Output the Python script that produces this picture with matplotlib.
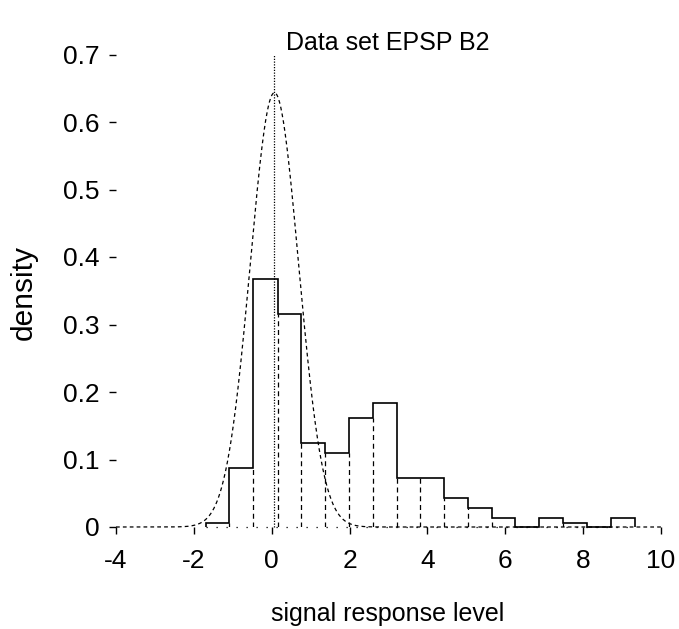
import numpy as np
import matplotlib.pyplot as plt

plt.rcParams['font.family'] = ['Liberation Sans', 'DejaVu Sans']

# histogram (density scale)
bin_edges = [-1.70, -1.09, -0.47, 0.15, 0.76, 1.37, 1.98, 2.59, 3.21, 3.82,
             4.43, 5.04, 5.65, 6.26, 6.87, 7.48, 8.10, 8.71, 9.32]
bin_heights = [0.006, 0.087, 0.367, 0.316, 0.124, 0.109, 0.161, 0.183, 0.073,
               0.073, 0.043, 0.028, 0.013, 0.0, 0.013, 0.006, 0.0, 0.013]

# noise component (normal density) and its marker line
noise_mean = 0.07
noise_sd = 0.62
marker_x = 0.05
marker_top = 0.7

x_ticks = [-4, -2, 0, 2, 4, 6, 8, 10]
y_ticks = [0, 0.1, 0.2, 0.3, 0.4, 0.5, 0.6, 0.7]
y_ticklabels = ['0', '0.1', '0.2', '0.3', '0.4', '0.5', '0.6', '0.7']

fig = plt.figure(figsize=(6.79, 6.29), dpi=100)
ax = fig.add_axes([116 / 679, 102 / 629, 545 / 679, 472.5 / 629])

edges = np.array(bin_edges)
h = np.array(bin_heights)

# outline of the histogram (solid)
ax.stairs(h, edges, baseline=0, fill=False, color='black', lw=1.2, clip_on=False)
# inner bin borders (dashed)
ax.vlines(edges[1:-1], 0, np.minimum(h[:-1], h[1:]), colors='black',
          linestyles=(0, (4, 3)), lw=0.9)
# sparse dotted baseline under the bars
ax.plot([edges[0], edges[-1]], [0, 0], color='black', lw=0.9,
        linestyle=(0, (1, 7)), clip_on=False)

# fitted normal curve
xs = np.linspace(-4, 10, 1400)
pdf = np.exp(-0.5 * ((xs - noise_mean) / noise_sd) ** 2) / (noise_sd * np.sqrt(2 * np.pi))
ax.plot(xs, pdf, color='black', lw=0.9, linestyle=(0, (3, 2.5)), clip_on=False)

# vertical dotted line at the noise mean
ax.plot([marker_x, marker_x], [0, marker_top], color='black', lw=0.9,
        linestyle=(0, (1, 1.2)), clip_on=False)

ax.set_xlim(-4, 10)
ax.set_ylim(0, 0.7)
for s in ax.spines.values():
    s.set_visible(False)

ax.set_xticks(x_ticks)
ax.set_xticklabels([str(v) for v in x_ticks])
ax.set_yticks(y_ticks)
ax.set_yticklabels(y_ticklabels)
ax.tick_params(axis='x', direction='out', length=5, width=1, pad=11, labelsize=19)
ax.tick_params(axis='y', direction='out', length=5, width=1, pad=7, labelsize=19)

fig.text(388 / 679, 1 - 50 / 629, 'Data set EPSP B2', ha='center', va='baseline',
         fontsize=18)
fig.text(388 / 679, 1 - 621 / 629, 'signal response level', ha='center',
         va='baseline', fontsize=18)
fig.text(24 / 679, 1 - 293 / 629, 'density', ha='center', va='center',
         rotation=90, fontsize=21.5)

fig.savefig('out.png', dpi=100)
